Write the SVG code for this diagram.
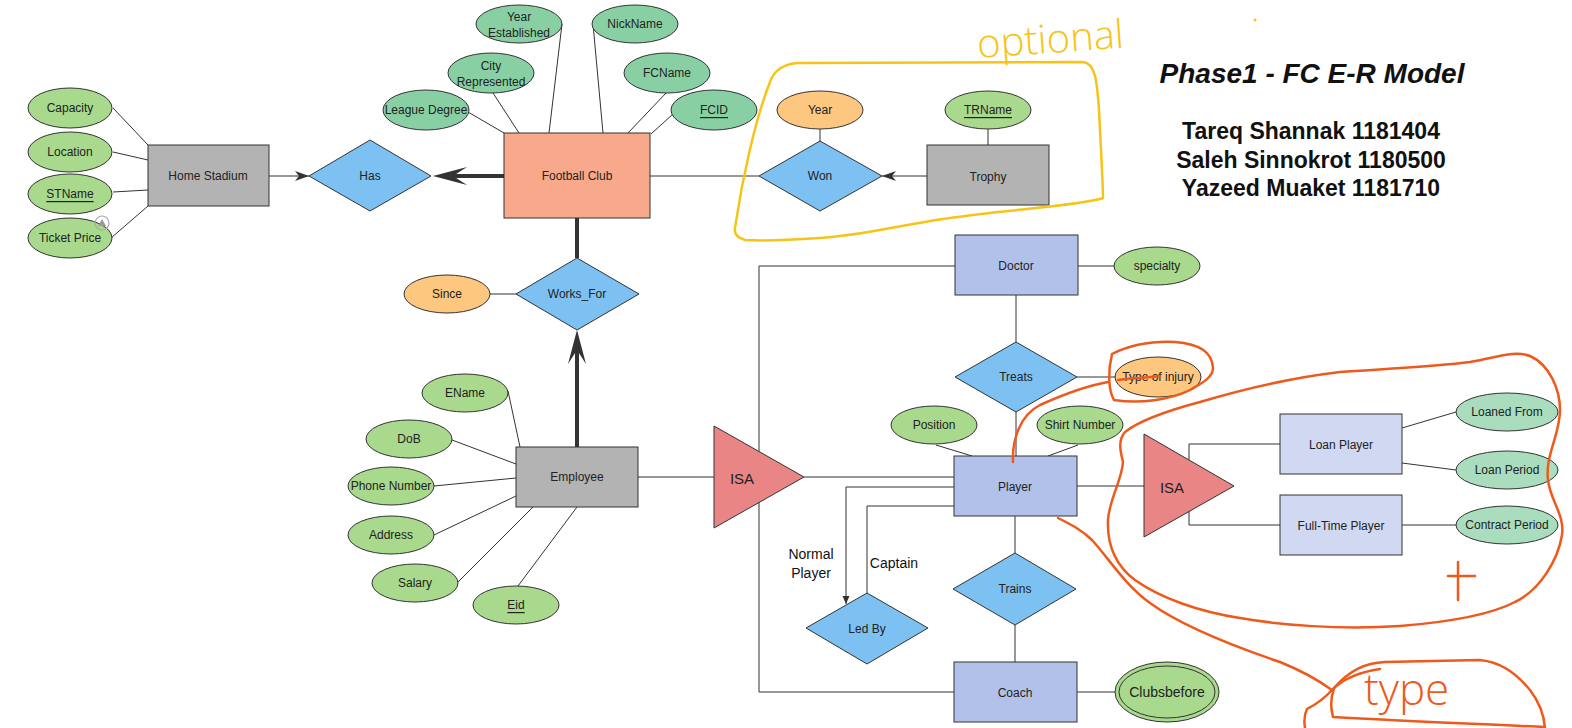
<svg xmlns="http://www.w3.org/2000/svg" width="1572" height="728" viewBox="0 0 1572 728">
<style>
.ent{stroke:#333;stroke-width:1}
.grey{fill:#b3b3b3}
.fc{fill:#f9a98b}
.blue{fill:#b1c1ea}
.lblue{fill:#d1d9f2}
.rel{fill:#7cc1f1;stroke:#333;stroke-width:1}
.isa{fill:#e98585;stroke:#333;stroke-width:1}
.att{stroke:#333;stroke-width:1}
.ga{fill:#a8d98c}
.ma{fill:#88d0a3}
.la{fill:#aadcbe}
.oa{fill:#fdc77f}
.ln{stroke:#333;stroke-width:1;fill:none}
.thick{stroke:#333;stroke-width:4;fill:none}
text{font-family:"Liberation Sans",Arial,sans-serif;font-size:12px;fill:#222;text-anchor:middle;dominant-baseline:central}
.u{text-decoration:underline}
.isat{font-size:15px}
.lbl{font-size:14px;fill:#111}
.title{font-weight:bold;font-style:italic;font-size:28px;fill:#111;dominant-baseline:auto}
.names{font-weight:bold;font-size:23px;fill:#111;dominant-baseline:auto}
.hand{fill:none;stroke:#ee5a1c;stroke-width:2.5;stroke-linecap:round;stroke-linejoin:round}
.yhand{fill:none;stroke:#f6c417;stroke-width:2.5;stroke-linecap:round;stroke-linejoin:round}
.htxt{font-family:"Open Sans","DejaVu Sans",sans-serif;font-weight:300;text-anchor:start;dominant-baseline:auto}
</style>
<defs>
<marker id="thickArrow" markerUnits="userSpaceOnUse" markerWidth="34" markerHeight="22" viewBox="0 0 34 22" refX="14" refY="11" orient="auto">
<path d="M0,2 L34,11 L0,20 L14,11 Z" fill="#333"/>
</marker>
<marker id="thinArrow" markerUnits="userSpaceOnUse" markerWidth="14" markerHeight="12" viewBox="0 0 14 12" refX="14" refY="6" orient="auto">
<path d="M0,1 L14,6 L0,11 L4,6 Z" fill="#333"/>
</marker>
<marker id="smallArrow" markerUnits="userSpaceOnUse" markerWidth="8" markerHeight="8" viewBox="0 0 8 8" refX="8" refY="4" orient="auto">
<path d="M0,0.5 L8,4 L0,7.5 Z" fill="#333"/>
</marker>
</defs>
<rect width="1572" height="728" fill="#fff"/>

<g id="connectors">
<path class="ln" d="M113,108 L148,145 M113,152 L148,160 M113,192 L148,190 M111,238 L148,206"/>
<path class="ln" d="M269,176 L309,176" marker-end="url(#thinArrow)"/>
<path class="thick" d="M504,176 L453,176" marker-end="url(#thickArrow)"/>
<path class="ln" d="M468,112 L504,133 M493,93 L519,133 M562,24 L549,133 M593,24 L603,133 M667,92 L628,133 M673,114 L651,134"/>
<path class="ln" d="M650,176 L759,176"/>
<path class="ln" d="M927,176 L882,176" marker-end="url(#thinArrow)"/>
<path class="ln" d="M820,129 L820,141 M988,129 L988,145"/>
<path class="thick" d="M577,218 L577,258"/>
<path class="thick" d="M577,447 L577,350" marker-end="url(#thickArrow)"/>
<path class="ln" d="M490,294 L516,294"/>
<path class="ln" d="M508,391 L520,447 M452,440 L516,464 M434,486 L516,478 M434,535 L516,496 M458,582 L533,507 M518,586 L577,507"/>
<path class="ln" d="M638,477 L714,477"/>
<path class="ln" d="M804,477 L954,477"/>
<path class="ln" d="M955,266 L759,266 L759,692 L954,692"/>
<path class="ln" d="M1078,266 L1115,266 M1016,295 L1016,342 M1077,377 L1116,377 M1016,412 L1016,456"/>
<path class="ln" d="M936,445 L972,456 M1078,445 L1048,456"/>
<path class="ln" d="M954,487 L846,487 L846,604" marker-end="url(#smallArrow)"/>
<path class="ln" d="M954,506 L867,506 L867,593"/>
<path class="ln" d="M1015,516 L1015,553 M1015,625 L1015,662 M1077,692 L1115,692"/>
<path class="ln" d="M1077,486 L1144,486 M1280,444 L1189,444 L1189,525 L1280,525"/>
<path class="ln" d="M1402,428 L1456,412 M1402,463 L1456,470 M1402,525 L1456,525"/>
<text class="lbl" x="811" y="554">Normal</text>
<text class="lbl" x="811" y="573">Player</text>
<text class="lbl" x="894" y="563">Captain</text>
</g>

<g id="home-stadium"><rect class="ent grey" x="148" y="145" width="121" height="61"/><text x="208" y="176">Home Stadium</text></g>
<g id="capacity"><ellipse class="att ga" cx="70" cy="108" rx="42" ry="20"/><text x="70" y="108">Capacity</text></g>
<g id="location"><ellipse class="att ga" cx="70" cy="152" rx="42" ry="20"/><text x="70" y="152">Location</text></g>
<g id="stname"><ellipse class="att ga" cx="70" cy="194" rx="42" ry="20"/><text class="u" x="70" y="194">STName</text></g>
<g id="ticket-price"><ellipse class="att ga" cx="70" cy="238" rx="42" ry="20"/><text x="70" y="238">Ticket Price</text>
<circle cx="102" cy="223" r="7" fill="none" stroke="#aaa" stroke-width="1.2"/><path d="M98,226 L102,219 L106,226 Z" fill="#999"/></g>

<g id="has"><polygon class="rel" points="309,176 370,140 431,176 370,211"/><text x="370" y="176">Has</text></g>

<g id="football-club"><rect class="ent fc" x="504" y="133" width="146" height="85"/><text x="577" y="176">Football Club</text></g>
<g id="year-established"><ellipse class="att ma" cx="519" cy="24" rx="43" ry="19"/><text x="519" y="17">Year</text><text x="519" y="33">Established</text></g>
<g id="city-represented"><ellipse class="att ma" cx="491" cy="73" rx="43" ry="20"/><text x="491" y="66">City</text><text x="491" y="82">Represented</text></g>
<g id="league-degree"><ellipse class="att ma" cx="426" cy="110" rx="43" ry="20"/><text x="426" y="110">League Degree</text></g>
<g id="nickname"><ellipse class="att ma" cx="635" cy="24" rx="43" ry="19"/><text x="635" y="24">NickName</text></g>
<g id="fcname"><ellipse class="att ma" cx="667" cy="73" rx="43" ry="20"/><text x="667" y="73">FCName</text></g>
<g id="fcid"><ellipse class="att ma" cx="714" cy="110" rx="43" ry="20"/><text class="u" x="714" y="110">FCID</text></g>

<g id="won"><polygon class="rel" points="759,176 820,141 882,176 820,211"/><text x="820" y="176">Won</text></g>
<g id="year"><ellipse class="att oa" cx="820" cy="110" rx="43" ry="19"/><text x="820" y="110">Year</text></g>
<g id="trophy"><rect class="ent grey" x="927" y="145" width="122" height="60"/><text x="988" y="177">Trophy</text></g>
<g id="trname"><ellipse class="att ga" cx="988" cy="110" rx="43" ry="19"/><text class="u" x="988" y="110">TRName</text></g>

<g id="works-for"><polygon class="rel" points="516,294 577,258 639,294 577,330"/><text x="577" y="294">Works_For</text></g>
<g id="since"><ellipse class="att oa" cx="447" cy="294" rx="43" ry="19"/><text x="447" y="294">Since</text></g>

<g id="employee"><rect class="ent grey" x="516" y="447" width="122" height="60"/><text x="577" y="477">Employee</text></g>
<g id="ename"><ellipse class="att ga" cx="465" cy="393" rx="43" ry="19"/><text x="465" y="393">EName</text></g>
<g id="dob"><ellipse class="att ga" cx="409" cy="439" rx="43" ry="19"/><text x="409" y="439">DoB</text></g>
<g id="phone-number"><ellipse class="att ga" cx="391" cy="486" rx="43" ry="19"/><text x="391" y="486">Phone Number</text></g>
<g id="address"><ellipse class="att ga" cx="391" cy="535" rx="43" ry="19"/><text x="391" y="535">Address</text></g>
<g id="salary"><ellipse class="att ga" cx="415" cy="583" rx="43" ry="19"/><text x="415" y="583">Salary</text></g>
<g id="eid"><ellipse class="att ga" cx="516" cy="605" rx="43" ry="19"/><text class="u" x="516" y="605">Eid</text></g>

<g id="isa-employee"><polygon class="isa" points="714,426 804,477 714,528"/><text class="isat" x="742" y="478">ISA</text></g>

<g id="doctor"><rect class="ent blue" x="955" y="235" width="123" height="60"/><text x="1016" y="266">Doctor</text></g>
<g id="specialty"><ellipse class="att ga" cx="1157" cy="266" rx="43" ry="19"/><text x="1157" y="266">specialty</text></g>
<g id="treats"><polygon class="rel" points="955,377 1016,342 1077,377 1016,412"/><text x="1016" y="377">Treats</text></g>
<g id="type-of-injury"><ellipse class="att oa" cx="1158" cy="377" rx="43" ry="20"/><text x="1158" y="377">Type of injury</text></g>
<g id="position"><ellipse class="att ga" cx="934" cy="425" rx="43" ry="19"/><text x="934" y="425">Position</text></g>
<g id="shirt-number"><ellipse class="att ga" cx="1080" cy="425" rx="43" ry="19"/><text x="1080" y="425">Shirt Number</text></g>
<g id="player"><rect class="ent blue" x="954" y="456" width="123" height="60"/><text x="1015" y="487">Player</text></g>
<g id="led-by"><polygon class="rel" points="806,628 867,593 928,628 867,664"/><text x="867" y="629">Led By</text></g>
<g id="trains"><polygon class="rel" points="953,589 1015,553 1076,589 1015,625"/><text x="1015" y="589">Trains</text></g>
<g id="coach"><rect class="ent blue" x="954" y="662" width="123" height="60"/><text x="1015" y="693">Coach</text></g>
<g id="clubsbefore"><ellipse class="att ga" cx="1167" cy="692" rx="52" ry="30"/><ellipse cx="1167" cy="692" rx="48" ry="26" fill="none" stroke="#333" stroke-width="1"/><text x="1167" y="692" style="font-size:14px">Clubsbefore</text></g>

<g id="isa-player"><polygon class="isa" points="1144,434 1234,486 1144,537"/><text class="isat" x="1172" y="487">ISA</text></g>
<g id="loan-player"><rect class="ent lblue" x="1280" y="414" width="122" height="60"/><text x="1341" y="445">Loan Player</text></g>
<g id="full-time-player"><rect class="ent lblue" x="1280" y="495" width="122" height="60"/><text x="1341" y="526">Full-Time Player</text></g>
<g id="loaned-from"><ellipse class="att la" cx="1507" cy="412" rx="51" ry="19"/><text x="1507" y="412">Loaned From</text></g>
<g id="loan-period"><ellipse class="att la" cx="1507" cy="470" rx="51" ry="19"/><text x="1507" y="470">Loan Period</text></g>
<g id="contract-period"><ellipse class="att la" cx="1507" cy="525" rx="51" ry="19"/><text x="1507" y="525">Contract Period</text></g>

<g id="title">
<text class="title" x="1312" y="83">Phase1 - FC E-R Model</text>
<text class="names" x="1311" y="139">Tareq Shannak 1181404</text>
<text class="names" x="1311" y="168">Saleh Sinnokrot 1180500</text>
<text class="names" x="1311" y="196">Yazeed Muaket 1181710</text>
</g>

<g id="annotations">
<path class="yhand" d="M735,228 C742,180 755,120 770,82 C774,70 785,63 800,63 L1083,62 C1095,63 1097,80 1099,110 C1101,150 1103,185 1103,198 C1080,206 1000,210 950,218 C900,225 860,236 820,238 C790,240 760,241 745,240 C738,238 734,234 735,228 Z"/>
<text class="htxt" x="978" y="58" transform="rotate(-4 978 58)" style="font-size:40px;fill:#f6c417">optional</text>
<circle cx="1255" cy="20" r="1.5" fill="#f6c417"/>
<path class="hand" d="M1112,354 C1108,370 1108,390 1114,400 C1140,404 1170,400 1190,390 C1200,384 1213,378 1213,368 C1212,352 1200,344 1175,342 C1150,341 1128,346 1112,354"/>
<path class="hand" d="M1118,380 C1130,378 1145,378 1160,376"/>
<path class="hand" d="M1013,462 C1012,440 1020,415 1040,405 C1060,396 1085,386 1108,382"/>
<path class="hand" d="M1123,462 C1120,450 1118,440 1125,432 C1140,420 1170,410 1200,402 C1240,390 1290,378 1340,372 C1400,368 1440,366 1470,362 C1495,358 1515,350 1530,356 C1550,365 1560,390 1560,410 C1560,435 1545,455 1548,480 C1550,500 1565,515 1562,535 C1558,560 1540,590 1515,602 C1490,615 1450,622 1400,626 C1340,630 1280,625 1240,618 C1200,612 1160,598 1135,580 C1115,565 1107,545 1108,520 C1109,500 1122,480 1123,462"/>
<path class="hand" d="M1458,562 L1458,600 M1448,576 L1475,576"/>
<path class="hand" d="M1058,518 C1070,524 1082,530 1092,540 C1110,560 1125,585 1150,603 C1180,625 1230,645 1280,662 C1300,670 1318,680 1332,690"/>
<path class="hand" d="M1380,669 C1360,672 1345,678 1334,688 C1330,700 1331,710 1333,717 C1400,721 1480,724 1545,727"/>
<path class="hand" d="M1334,688 C1350,670 1365,663 1385,662 L1480,660 C1500,662 1515,672 1530,690 C1540,703 1544,715 1545,728"/>
<path class="hand" d="M1334,688 C1325,698 1315,705 1307,709 C1304,715 1304,722 1305,728"/>
<text class="htxt" x="1364" y="705" style="font-size:44px;fill:#ee5a1c">type</text>
</g>
</svg>
